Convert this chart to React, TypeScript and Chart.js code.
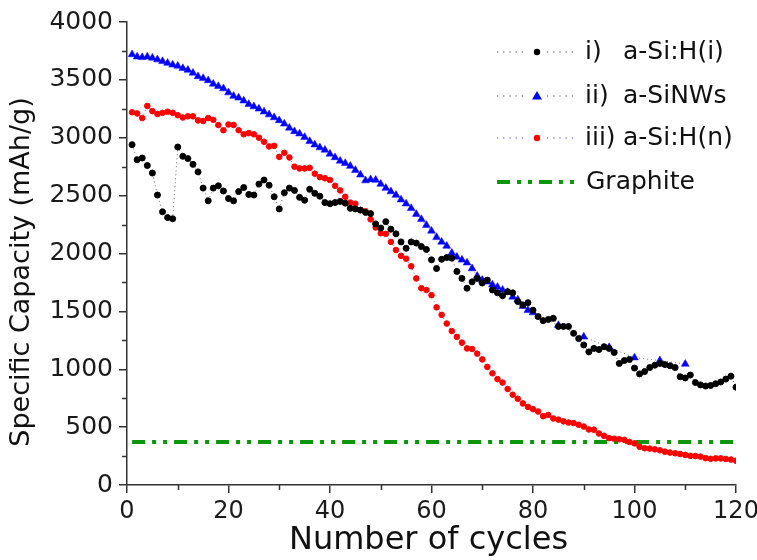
import React, { useEffect, useRef } from 'react';
import { Chart, registerables } from 'chart.js';

Chart.register(...registerables);

const FONT = '"DejaVu Sans", "Liberation Sans", sans-serif';

// ---------- data ----------
const cycles = Array.from({ length: 120 }, (_, i) => i + 1);

const aSiHi = [
  2940, 2810, 2825, 2760, 2695, 2505, 2360, 2310, 2300, 2920,
  2840, 2820, 2770, 2705, 2565, 2455, 2565, 2585, 2540, 2475,
  2455, 2535, 2570, 2510, 2505, 2600, 2635, 2590, 2490, 2385,
  2525, 2565, 2545, 2485, 2460, 2555, 2520, 2495, 2440, 2430,
  2440, 2450, 2435, 2390, 2385, 2375, 2355, 2345, 2255, 2220,
  2275, 2210, 2170, 2100, 2045, 2100, 2090, 2060, 2035, 1945,
  1870, 1950, 1965, 1960, 1845, 1785, 1700, 1755, 1785, 1745,
  1770, 1685, 1660, 1635, 1670, 1660, 1585, 1555, 1575, 1510,
  1455, 1420, 1430, 1440, 1370, 1370, 1370, 1310, 1265, 1210,
  1150, 1180, 1170, 1195, 1180, 1145, 1050, 1075, 1085, 1010,
  960, 980, 1015, 1035, 1050, 1040, 1030, 1015, 935, 925,
  950, 885, 865, 855, 860, 875, 890, 915, 940, 845,
];

const nwCycles = [
  1, 2, 3, 4, 5, 6, 7, 8, 9, 10, 11, 12, 13, 14, 15, 16, 17, 18, 19, 20,
  21, 22, 23, 24, 25, 26, 27, 28, 29, 30, 31, 32, 33, 34, 35, 36, 37, 38, 39, 40,
  41, 42, 43, 44, 45, 46, 47, 48, 49, 50, 51, 52, 53, 54, 55, 56, 57, 58, 59, 60,
  61, 62, 63, 64, 65, 66, 67, 68, 69, 70, 71, 72, 73, 74, 75, 76, 77, 78, 79, 80,
  85, 90, 95, 100, 105, 110,
];
const aSiNWs = [
  3720, 3700, 3695, 3700, 3690, 3675, 3660, 3645, 3630, 3620,
  3600, 3585, 3560, 3530, 3515, 3495, 3465, 3445, 3425, 3390,
  3360, 3345, 3320, 3290, 3270, 3250, 3225, 3200, 3175, 3150,
  3120, 3085, 3055, 3035, 3005, 2970, 2940, 2915, 2895, 2860,
  2830, 2800, 2780, 2755, 2720, 2680, 2630, 2640, 2635, 2600,
  2565, 2535, 2505, 2465, 2430, 2390, 2340, 2295, 2245, 2195,
  2140, 2100, 2065, 2005, 1970, 1945, 1920, 1870, 1805, 1770,
  1755, 1730, 1710, 1685, 1665, 1625, 1600, 1545, 1510, 1490,
  1380, 1280, 1190, 1100, 1075, 1045,
];

const aSiHn = [
  3220, 3210, 3170, 3275, 3230, 3205, 3215, 3225, 3215, 3195,
  3175, 3185, 3185, 3150, 3145, 3170, 3155, 3110, 3065, 3115,
  3110, 3065, 3030, 3040, 3030, 3000, 2965, 2925, 2930, 2835,
  2870, 2830, 2750, 2735, 2735, 2740, 2690, 2660, 2650, 2635,
  2585, 2545, 2490, 2440, 2430, 2375, 2365, 2295, 2225, 2175,
  2170, 2100, 2030, 1980, 1955, 1890, 1785, 1700, 1685, 1640,
  1535, 1470, 1395, 1330, 1280, 1230, 1180, 1175, 1135, 1085,
  1020, 965, 915, 885, 830, 780, 745, 705, 675, 655,
  635, 595, 605, 575, 565, 550, 540, 535, 520, 505,
  480, 478, 445, 425, 405, 400, 395, 390, 372, 360,
  330, 318, 315, 308, 300, 288, 280, 274, 268, 260,
  252, 250, 245, 232, 226, 230, 230, 225, 220, 210,
];

const graphiteCycles = [1, 120];
const graphite = [372, 372];

const xMinorTicks = [10, 30, 50, 70, 90, 110];
const yMinorTicks = [250, 750, 1250, 1750, 2250, 2750, 3250, 3750];

const yTitle = 'Specific Capacity (mAh/g)';
const xTitle = 'Number of cycles';

const legendItems = [
  { num: 'i)', label: 'a-Si:H(i)', marker: 'circle', markerColor: '#000000', lineColor: 'rgba(0,0,0,0.75)' },
  { num: 'ii)', label: 'a-SiNWs', marker: 'triangle', markerColor: '#0000ff', lineColor: 'rgba(0,0,0,0.75)' },
  { num: 'iii)', label: 'a-Si:H(n)', marker: 'circle', markerColor: '#ff0000', lineColor: '#3333ff' },
  { num: '', label: 'Graphite', marker: 'none', markerColor: '', lineColor: '#0c960c' },
];

const GREEN = '#0c960c';

const toXY = (xs: number[], ys: number[]) => xs.map((x, i) => ({ x, y: ys[i] }));

const axisExtrasPlugin = {
  id: 'axisExtras',
  afterDraw(chart: any) {
    const { ctx, chartArea, scales } = chart;
    ctx.save();
    ctx.strokeStyle = '#333';
    ctx.lineWidth = 1.5;
    ctx.beginPath();
    yMinorTicks.forEach((v) => {
      const py = Math.round(scales.y.getPixelForValue(v)) + 0.5;
      ctx.moveTo(chartArea.left - 5, py);
      ctx.lineTo(chartArea.left, py);
    });
    xMinorTicks.forEach((v) => {
      const px = Math.round(scales.x.getPixelForValue(v)) + 0.5;
      ctx.moveTo(px, chartArea.bottom);
      ctx.lineTo(px, chartArea.bottom + 5);
    });
    ctx.stroke();
    ctx.fillStyle = '#111';
    ctx.textAlign = 'center';
    ctx.textBaseline = 'middle';
    ctx.font = `32px ${FONT}`;
    ctx.fillText(xTitle, (chartArea.left + chartArea.right) / 2 - 3, 541);
    ctx.font = `27px ${FONT}`;
    ctx.translate(22, 272);
    ctx.rotate(-Math.PI / 2);
    ctx.fillText(yTitle, 0, 0);
    ctx.restore();
  },
};

const legendPlugin = {
  id: 'customLegend',
  afterDraw(chart: any) {
    const ctx = chart.ctx;
    ctx.save();
    const rowsY = [52, 96, 138, 182];
    const x0 = 497;
    const x1 = 575;
    const mx = 537;
    legendItems.forEach((it, i) => {
      const y = rowsY[i];
      if (it.marker === 'none') {
        ctx.setLineDash([13, 7, 4, 7, 4, 7]);
        ctx.lineWidth = 4;
        ctx.strokeStyle = it.lineColor;
        ctx.beginPath();
        ctx.moveTo(x0, y);
        ctx.lineTo(x1, y);
        ctx.stroke();
      } else {
        ctx.setLineDash([1.2, 5]);
        ctx.lineWidth = 1;
        ctx.strokeStyle = it.lineColor;
        ctx.beginPath();
        ctx.moveTo(x0, y);
        ctx.lineTo(mx - 10, y);
        ctx.moveTo(mx + 10, y);
        ctx.lineTo(x1, y);
        ctx.stroke();
        ctx.setLineDash([]);
        ctx.fillStyle = it.markerColor;
        ctx.beginPath();
        if (it.marker === 'circle') {
          ctx.arc(mx, y, 3.2, 0, Math.PI * 2);
        } else {
          ctx.moveTo(mx, y - 5);
          ctx.lineTo(mx + 5, y + 3.5);
          ctx.lineTo(mx - 5, y + 3.5);
          ctx.closePath();
        }
        ctx.fill();
      }
      ctx.setLineDash([]);
      ctx.fillStyle = '#111';
      ctx.font = `25px ${FONT}`;
      ctx.textBaseline = 'middle';
      ctx.textAlign = 'left';
      if (it.num) {
        ctx.fillText(it.num, 585, y);
        ctx.fillText(it.label, 623, y);
      } else {
        ctx.fillText(it.label, 586, y);
      }
    });
    ctx.restore();
  },
};

export default function App() {
  const ref = useRef<HTMLCanvasElement | null>(null);

  useEffect(() => {
    if (!ref.current) return;
    const chart = new Chart(ref.current, {
      type: 'line',
      data: {
        datasets: [
          {
            label: 'i) a-Si:H(i)',
            data: toXY(cycles, aSiHi),
            borderColor: 'rgba(0,0,0,0.6)',
            borderWidth: 1,
            borderDash: [1, 3],
            pointStyle: 'circle',
            pointRadius: 3,
            pointBorderWidth: 1,
            pointBackgroundColor: '#000',
            pointBorderColor: '#000',
            fill: false,
          },
          {
            label: 'ii) a-SiNWs',
            data: toXY(nwCycles, aSiNWs),
            borderColor: 'rgba(0,0,0,0.6)',
            borderWidth: 1,
            borderDash: [1, 3],
            pointStyle: 'triangle',
            pointRadius: 4.5,
            pointBorderWidth: 0.5,
            pointBackgroundColor: '#0000ff',
            pointBorderColor: '#0000ff',
            fill: false,
          },
          {
            label: 'iii) a-Si:H(n)',
            data: toXY(cycles, aSiHn),
            borderColor: 'rgba(40,40,255,0.7)',
            borderWidth: 1,
            borderDash: [1, 3],
            pointStyle: 'circle',
            pointRadius: 2.8,
            pointBorderWidth: 1,
            pointBackgroundColor: '#ff0000',
            pointBorderColor: '#ff0000',
            fill: false,
          },
          {
            label: 'Graphite',
            data: toXY(graphiteCycles, graphite),
            borderColor: GREEN,
            borderWidth: 4,
            borderDash: [13, 7, 4, 7, 4, 7],
            pointRadius: 0,
            fill: false,
          },
        ],
      },
      options: {
        responsive: false,
        animation: false,
        layout: { padding: { top: 22, right: 21, left: 0, bottom: 0 } },
        plugins: {
          legend: { display: false },
          tooltip: { enabled: false },
        },
        scales: {
          x: {
            type: 'linear',
            min: 0,
            max: 120,
            ticks: {
              stepSize: 20,
              color: '#1a1a1a',
              font: { family: FONT, size: 24 },
              padding: 4,
              maxRotation: 0,
              callback: (v: any) => String(v),
            },
            grid: {
              drawOnChartArea: false,
              drawTicks: true,
              tickLength: 8,
              color: '#333',
              lineWidth: 1.5,
            },
            border: { display: true, color: '#333', width: 1.5 },
            title: { display: false },
            afterFit: (scale: any) => {
              scale.height = 75;
              scale.paddingRight = 0;
              scale.paddingLeft = 0;
            },
          },
          y: {
            type: 'linear',
            min: 0,
            max: 4000,
            ticks: {
              stepSize: 500,
              color: '#1a1a1a',
              font: { family: FONT, size: 25 },
              padding: 6,
              callback: (v: any) => String(v),
            },
            grid: {
              drawOnChartArea: false,
              drawTicks: true,
              tickLength: 8,
              color: '#333',
              lineWidth: 1.5,
            },
            border: { display: true, color: '#333', width: 1.5 },
            title: { display: false },
            afterFit: (scale: any) => {
              scale.width = 127;
              scale.paddingTop = 0;
              scale.paddingBottom = 0;
            },
          },
        },
      },
      plugins: [axisExtrasPlugin, legendPlugin],
    });
    return () => chart.destroy();
  }, []);

  return (
    <div style={{ position: 'fixed', left: 0, top: 0, width: 757, height: 560, background: '#fff' }}>
      <canvas ref={ref} width={757} height={560} />
    </div>
  );
}
